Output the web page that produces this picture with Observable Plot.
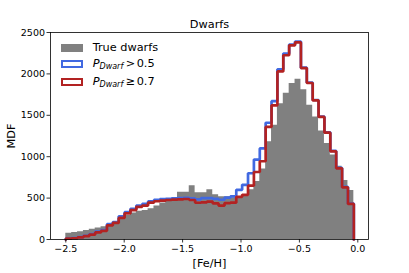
<!DOCTYPE html>
<html><head><meta charset="utf-8">
<script src="https://cdn.jsdelivr.net/npm/d3@7"></script>
<script src="https://cdn.jsdelivr.net/npm/@observablehq/plot@0.6"></script>
<style>
html,body{margin:0;padding:0;background:#fff;}
#wrap{position:relative;width:409px;height:273px;font-family:"DejaVu Sans",sans-serif;color:#000;}
#wrap svg{display:block;}
.patch{position:absolute;left:61px;width:22px;height:8px;box-sizing:border-box;}
.ltext{position:absolute;left:92.7px;font-size:11.3px;line-height:14px;white-space:nowrap;}
.ltext i{font-style:italic;}
.ltext sub{font-size:8px;font-style:italic;vertical-align:-2px;line-height:0;}
</style></head><body><div id="wrap"></div>
<script>
// [Fe/H] histogram range and bin counts (49 bins)
const binRange = [-2.5, -0.034];
const trueDwarfs = [75,85,95,110,125,140,155,180,215,255,290,320,340,350,370,405,440,465,475,570,570,650,565,565,600,540,515,515,505,510,540,600,700,850,1180,1380,1640,1765,1885,1935,1810,1620,1480,1310,1160,1020,885,712,592];
const pDwarf05 = [12,18,28,45,65,95,115,185,210,280,330,370,410,430,460,478,487,492,497,500,502,497,485,500,500,490,480,505,520,600,660,800,965,1100,1410,1670,2055,2245,2355,2390,2075,1895,1685,1485,1295,1070,865,635,435];
const pDwarf07 = [10,15,25,40,60,85,105,170,200,260,315,355,395,410,445,462,469,477,481,485,489,477,444,448,457,436,408,440,445,515,540,650,815,945,1360,1620,2030,2225,2345,2380,2070,1890,1680,1480,1290,1065,860,630,430];
const xTicks = [-2.5,-2.0,-1.5,-1.0,-0.5,0.0];
const yTicks = [0,500,1000,1500,2000,2500];
const labels = {title:"Dwarfs", x:"[Fe/H]", y:"MDF"};

const nBins = trueDwarfs.length;
const bw = (binRange[1]-binRange[0])/nBins;
function stepPts(vals){
  const pts=[{x:binRange[0],y:0}];
  vals.forEach((v,i)=>{pts.push({x:binRange[0]+i*bw,y:v});pts.push({x:binRange[0]+(i+1)*bw,y:v});});
  pts.push({x:binRange[1],y:0});
  return pts;
}
const fmt = d => d.toFixed(1).replace("-","\u2212");
const chart = Plot.plot({
  width:409, height:273,
  marginLeft:50, marginRight:41, marginTop:32, marginBottom:34,
  style:{fontFamily:"DejaVu Sans", fontSize:"9.5px", background:"white", color:"#000"},
  x:{domain:[-2.631,0.0916]},
  y:{domain:[0,2500]},
  marks:[
    Plot.area(stepPts(trueDwarfs),{x1:"x",y1:0,y2:"y",fill:"#808080"}),
    Plot.line(stepPts(pDwarf05),{x:"x",y:"y",stroke:"#4169E1",strokeWidth:2.7,strokeLinejoin:"miter"}),
    Plot.line(stepPts(pDwarf07),{x:"x",y:"y",stroke:"#B22222",strokeWidth:2.7,strokeLinejoin:"miter"}),
    Plot.frame({stroke:"#000",strokeWidth:0.8}),
    Plot.axisX(xTicks,{tickSize:3.5,tickPadding:2.5,tickFormat:fmt,label:null,strokeWidth:0.8}),
    Plot.axisY(yTicks,{tickSize:3.5,tickPadding:2,tickFormat:d=>String(d),label:null,strokeWidth:0.8}),
    Plot.text([labels.title],{frameAnchor:"top",lineAnchor:"middle",textAnchor:"middle",dy:-8.6,fontSize:11.3}),
    Plot.text([labels.x],{frameAnchor:"bottom",lineAnchor:"middle",textAnchor:"middle",dy:23.9,fontSize:11.3}),
    Plot.text([labels.y],{frameAnchor:"left",lineAnchor:"middle",textAnchor:"middle",dx:-39,rotate:-90,fontSize:11.3})
  ]
});
const wrap=document.getElementById("wrap");
wrap.appendChild(chart);
const legend=[
  {style:"background:#808080;top:43.5px;", top:40.8, html:"True dwarfs"},
  {style:"border:2.5px solid #4169E1;background:#fff;top:60.2px;", top:57.4, html:'<i>P</i><sub>Dwarf</sub><span style="margin-left:2.5px">&gt;</span><span style="margin-left:1.5px">0.5</span>'},
  {style:"border:2.5px solid #B22222;background:#fff;top:77.6px;", top:75.1, html:'<i>P</i><sub>Dwarf</sub><span style="margin-left:2.5px">\u2265</span><span style="margin-left:1.5px">0.7</span>'}
];
legend.forEach(e=>{
  const p=document.createElement("div");p.className="patch";p.style.cssText+=e.style;wrap.appendChild(p);
  const t=document.createElement("div");t.className="ltext";t.style.top=e.top+"px";t.innerHTML=e.html;wrap.appendChild(t);
});
</script></body></html>
